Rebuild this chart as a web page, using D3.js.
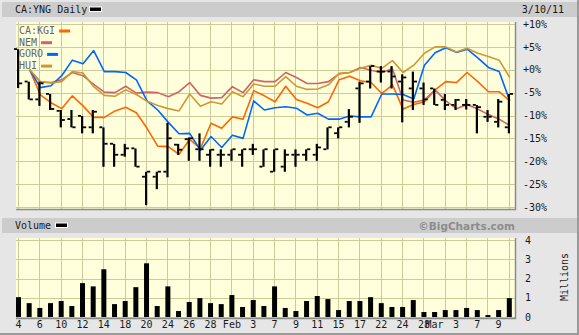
<!DOCTYPE html>
<html>
<head>
<meta charset="utf-8">
<script src="https://cdn.jsdelivr.net/npm/d3@7"></script>
<style>
  html, body { margin: 0; padding: 0; background: #e6e6e6; }
  svg { display: block; }
  text { font-family: "DejaVu Sans Mono", monospace; font-size: 10px; fill: #1a1a1a; }
</style>
</head>
<body>
<script>
// trading days shown on the chart
const dates = ["Jan 4","Jan 5","Jan 6","Jan 7","Jan 10","Jan 11","Jan 12","Jan 13","Jan 14","Jan 17",
  "Jan 18","Jan 19","Jan 20","Jan 21","Jan 24","Jan 25","Jan 26","Jan 27","Jan 28","Jan 31",
  "Feb 1","Feb 2","Feb 3","Feb 4","Feb 7","Feb 8","Feb 9","Feb 10","Feb 11","Feb 14",
  "Feb 15","Feb 16","Feb 17","Feb 18","Feb 22","Feb 23","Feb 24","Feb 25","Feb 28",
  "Mar 1","Mar 2","Mar 3","Mar 4","Mar 7","Mar 8","Mar 9","Mar 10"];

const tickDates = ["Jan 4","Jan 6","Jan 10","Jan 12","Jan 14","Jan 18","Jan 20","Jan 24","Jan 26","Jan 28",
  "Feb 1","Feb 3","Feb 7","Feb 9","Feb 11","Feb 15","Feb 17","Feb 22","Feb 24","Feb 28","Mar 1","Mar 3","Mar 7","Mar 9"];
const tickText = ["4","6","10","12","14","18","20","24","26","28","Feb","3","7","9","11","15","17","22","24","28","Mar","3","7","9"];

const pctTicks = [10, 5, 0, -5, -10, -15, -20, -25, -30];
const volTicks = [0, 1, 2, 3, 4];

// CA:YNG daily bars, % change
const opens  = [4.5,-2.6,-6.5,-5.3,-9.0,-10.8,-10.1,-12.6,-12.6,-16.2,-18.6,-17.2,-23.4,-23.4,-22.3,-16.4,-15.2,-17.4,-18.6,-18.6,
  -18.6,-18.6,-17.4,-21.2,-22.3,-21.2,-18.6,-18.6,-18.6,-17.4,-13.9,-11.4,-4.1,-2.6,-0.4,-0.4,-2.6,-4.1,-4.1,-4.1,
  -6.6,-7.7,-7.7,-7.7,-10.3,-11.4,-12.6];
const highs  = [4.5,-2.6,-2.6,-5.3,-8.8,-8.8,-10.1,-8.8,-12.6,-16.2,-16.2,-17.2,-22.3,-22.3,-11.6,-16.2,-14.8,-13.9,-17.4,-17.4,
  -17.4,-17.4,-16.2,-17.4,-17.4,-17.4,-17.4,-17.4,-16.2,-12.6,-12.6,-8.6,-2.6,0.8,0.8,0.8,-1.0,-0.4,-2.8,-4.1,
  -5.3,-6.4,-6.4,-7.7,-8.8,-6.4,-5.3];
const lows   = [-4.0,-6.5,-7.9,-8.8,-12.6,-12.6,-13.9,-13.9,-21.2,-21.2,-19.0,-21.2,-29.6,-26.1,-23.5,-18.6,-19.9,-19.9,-21.2,-21.2,
  -19.9,-21.2,-18.6,-21.2,-22.3,-22.3,-21.2,-19.9,-19.9,-17.4,-15.0,-12.6,-11.6,-4.1,-2.8,-4.1,-11.5,-8.8,-7.7,-7.7,
  -8.8,-8.8,-8.7,-13.9,-11.4,-12.6,-13.9];
const closes = [-3.0,-6.5,-3.0,-8.6,-11.0,-12.6,-12.6,-9.2,-16.2,-18.6,-17.2,-21.2,-22.3,-22.3,-15.0,-17.5,-15.0,-17.4,-17.5,-18.6,
  -17.4,-17.4,-17.4,-17.4,-17.4,-18.6,-18.6,-17.4,-17.0,-12.6,-12.6,-10.3,-3.0,0.8,-0.4,-1.5,-1.7,-2.6,-6.5,-7.7,
  -7.7,-6.6,-7.7,-8.2,-10.3,-7.0,-5.3];

// comparison series, % change (first day has no value)
const kgi  = [null,0,-5.5,-7.2,-8.5,-5.7,-7.9,-10.4,-10.4,-9.0,-8.2,-9.4,-12.8,-16.7,-16.8,-18.5,-15.2,-17.2,-11.7,-12.8,
  -10.3,-10.8,-4.6,-5.7,-7.0,-3.6,-6.5,-7.3,-8.3,-7.0,-2.2,-1.4,-2.4,-2.8,-5.2,-3.3,-8.6,-7.6,-7.0,-4.4,
  -2.6,-2.8,-0.6,-2.6,-4.8,-4.8,-6.8];
const nem  = [null,0,-2.7,-2.8,-2.2,-0.6,-1.3,-3.2,-4.9,-5.0,-3.6,-5.1,-4.9,-5.0,-5.9,-4.8,-2.8,-5.6,-6.2,-6.1,
  -3.7,-5.0,-2.2,-2.6,-2.6,-0.6,-1.7,-3.0,-3.0,-2.6,-0.9,-0.6,0.5,-0.1,-0.6,0.2,-6.6,-7.1,-6.6,-4.4,
  -6.8,-8.5,-7.6,-8.6,-9.8,-10.8,-12.2];
const goro = [null,0,-3.9,-3.5,-1.3,2.1,1.3,4.2,-0.4,-0.4,-0.6,-2.2,-6.8,-8.8,-11.5,-14.0,-13.9,-17.6,-14.6,-17.0,
  -14.3,-15.0,-6.8,-8.8,-8.3,-8.1,-8.4,-9.9,-9.5,-10.8,-10.8,-10.1,-10.3,-10.3,-5.3,-5.3,-5.4,-6.4,1.0,3.7,
  4.8,3.8,4.5,2.6,0.5,-0.4,-6.8];
const hui  = [null,0,-2.6,-2.9,-2.6,-0.4,-0.7,-3.7,-5.6,-5.8,-4.4,-5.4,-6.9,-7.8,-8.5,-9.0,-5.3,-8.0,-7.0,-7.5,
  -4.8,-5.9,-3.1,-3.6,-3.6,-1.5,-3.6,-4.3,-4.2,-3.3,-0.8,-0.6,0.3,1.0,0.3,2.0,-0.6,1.0,3.6,5.0,
  5.0,3.9,4.7,3.6,2.9,2.1,-1.7];

// volume, millions
const volume = [1.03,0.72,0.47,0.72,0.83,0.57,1.76,1.59,2.48,0.67,0.83,1.55,2.79,0.57,1.59,0.31,0.78,0.98,0.72,0.67,
  1.14,0.52,0.88,0.57,1.59,0.47,0.31,0.83,1.09,0.93,0.36,0.83,0.83,1.03,0.72,0.52,0.52,0.88,0.26,0.26,
  0.36,0.36,0.47,0.36,0.10,0.36,0.98];

const seriesNames = ["CA:KGI", "NEM", "GORO", "HUI"];
const seriesData = [kgi, nem, goro, hui];
const seriesColors = ["#ff6600", "#cc6666", "#0066ff", "#cc9933"];

const W = 579, H = 335;
const plotL = 16, plotR = 515;
const top1 = 22, bot1 = 209;
const top2 = 238, bot2 = 318;
const grid = "#cccc99";

const svg = d3.select("body").append("svg").attr("width", W).attr("height", H);

// frame and title bands
svg.append("rect").attr("width", W).attr("height", H).attr("fill", "#e6e6e6");
svg.append("rect").attr("x", W - 2).attr("width", 2).attr("height", H).attr("fill", "#9a9a9a");
svg.append("rect").attr("y", H - 2).attr("width", W).attr("height", 2).attr("fill", "#9a9a9a");
svg.append("rect").attr("x", 2).attr("y", 2).attr("width", W - 4).attr("height", 15).attr("fill", "#cccccc");
svg.append("rect").attr("x", 2).attr("y", 218).attr("width", W - 4).attr("height", 15).attr("fill", "#cccccc");

let x = d3.scalePoint().domain(dates).range([18, 508.8]);
let y = d3.scaleLinear().domain([-30, 10]).range([207, 24]);
let v = d3.scaleLinear().domain([0, 4]).range([317, 240]);

function panel(t, b) {
  const g = svg.append("g");
  g.append("rect").attr("x", plotL).attr("y", t).attr("width", plotR - plotL).attr("height", b - t)
    .attr("fill", "#ffffdc");
  g.selectAll(".vg").data(dates.filter((d, i) => i % 2 === 0)).enter().append("line")
    .attr("x1", d => Math.round(x(d)) + 0.5).attr("x2", d => Math.round(x(d)) + 0.5)
    .attr("y1", t).attr("y2", b).attr("stroke", grid).attr("stroke-width", 1);
  return g;
}
function frame(t, b) {
  svg.append("line").attr("x1", plotR + 0.5).attr("x2", plotR + 0.5).attr("y1", t).attr("y2", b + 1)
    .attr("stroke", "#8a8a8a").attr("stroke-width", 1.5);
  svg.append("line").attr("x1", plotL).attr("x2", plotR + 1).attr("y1", b + 0.5).attr("y2", b + 0.5)
    .attr("stroke", "#8a8a8a").attr("stroke-width", 1.5);
}

// ---- price panel
const g1 = panel(top1, bot1);
g1.selectAll(".hg").data(pctTicks).enter().append("line")
  .attr("x1", plotL).attr("x2", plotR)
  .attr("y1", d => Math.round(y(d)) + 0.5).attr("y2", d => Math.round(y(d)) + 0.5)
  .attr("stroke", grid);

// legend
seriesNames.forEach((name, k) => {
  const ty = 34 + k * 11.7;
  const t = g1.append("text").attr("x", 19).attr("y", ty).attr("fill", "#666").style("fill", "#666").text(name);
  const w = t.node().getComputedTextLength();
  g1.append("rect").attr("x", 19 + w + 4).attr("y", ty - 4.5).attr("width", 11).attr("height", 3)
    .attr("fill", seriesColors[k]);
});

let lines = d3.line()
  .defined(d => d != null)
  .x((d, i) => x(dates[i]) + 1)
  .y(d => y(d));

seriesData.forEach((s, k) => {
  g1.append("path").datum(s).attr("d", lines).attr("fill", "none")
    .attr("stroke", seriesColors[k]).attr("stroke-width", 1.6).attr("stroke-linejoin", "round");
});

// OHLC bars
const bars = g1.selectAll(".bar").data(dates).enter().append("g");
bars.append("rect").attr("x", d => x(d) - 1).attr("width", 2.2)
  .attr("y", (d, i) => y(highs[i])).attr("height", (d, i) => y(lows[i]) - y(highs[i])).attr("fill", "#000");
bars.append("rect").attr("x", d => x(d) - 4).attr("width", 3)
  .attr("y", (d, i) => y(opens[i]) - 1).attr("height", 1.8).attr("fill", "#000");
bars.append("rect").attr("x", d => x(d) + 1).attr("width", 3.2)
  .attr("y", (d, i) => y(closes[i]) - 1).attr("height", 1.8).attr("fill", "#000");

frame(top1, bot1);

svg.append("g").attr("transform", `translate(523,0)`)
  .call(d3.axisRight(y).tickValues(pctTicks).tickSize(0).tickPadding(0)
    .tickFormat(d => (d >= 0 ? "+" : "") + d + "%"))
  .call(g => g.select(".domain").remove())
  .selectAll("text").attr("font-family", null).attr("font-size", null);

// titles
svg.append("text").attr("x", 15).attr("y", 13).text("CA:YNG Daily");
svg.append("rect").attr("x", 89).attr("y", 6.5).attr("width", 13).attr("height", 5.5).attr("fill", "#fff");
svg.append("rect").attr("x", 90).attr("y", 7.5).attr("width", 11).attr("height", 3.5).attr("fill", "#000");
svg.append("text").attr("x", 564).attr("y", 13).attr("text-anchor", "end").text("3/10/11");

// ---- volume panel
const g2 = panel(top2, bot2);
g2.selectAll(".hg").data(volTicks).enter().append("line")
  .attr("x1", plotL).attr("x2", plotR)
  .attr("y1", d => Math.round(v(d)) + 0.5).attr("y2", d => Math.round(v(d)) + 0.5)
  .attr("stroke", grid);
g2.selectAll(".vol").data(volume).enter().append("rect")
  .attr("x", (d, i) => x(dates[i]) - 2).attr("width", 5)
  .attr("y", d => v(d)).attr("height", d => v(0) - v(d)).attr("fill", "#000");
frame(top2, bot2);

svg.append("g").attr("transform", `translate(525,0)`)
  .call(d3.axisRight(v).tickValues(volTicks).tickSize(0).tickPadding(0).tickFormat(d3.format("d")))
  .call(g => g.select(".domain").remove())
  .selectAll("text").attr("font-family", null).attr("font-size", null);

svg.append("g").attr("transform", `translate(0,321)`)
  .call(d3.axisBottom(x).tickValues(tickDates).tickSize(0).tickPadding(0)
    .tickFormat((d, i) => tickText[i]))
  .call(g => g.select(".domain").remove())
  .selectAll("text").attr("font-family", null).attr("font-size", null);

svg.append("text").attr("transform", "translate(568,277) rotate(-90)")
  .attr("text-anchor", "middle").text("Millions");

svg.append("text").attr("x", 15).attr("y", 229).text("Volume");
svg.append("rect").attr("x", 55).attr("y", 222.5).attr("width", 13).attr("height", 5.5).attr("fill", "#fff");
svg.append("rect").attr("x", 56).attr("y", 223.5).attr("width", 11).attr("height", 3.5).attr("fill", "#000");

svg.append("text").attr("x", 515).attr("y", 229.5).attr("text-anchor", "end")
  .style("font-family", "'DejaVu Sans', sans-serif").style("font-size", "10.5px")
  .style("font-weight", "bold").style("fill", "#8c8c8c").text("\u00a9BigCharts.com");
</script>
</body>
</html>
